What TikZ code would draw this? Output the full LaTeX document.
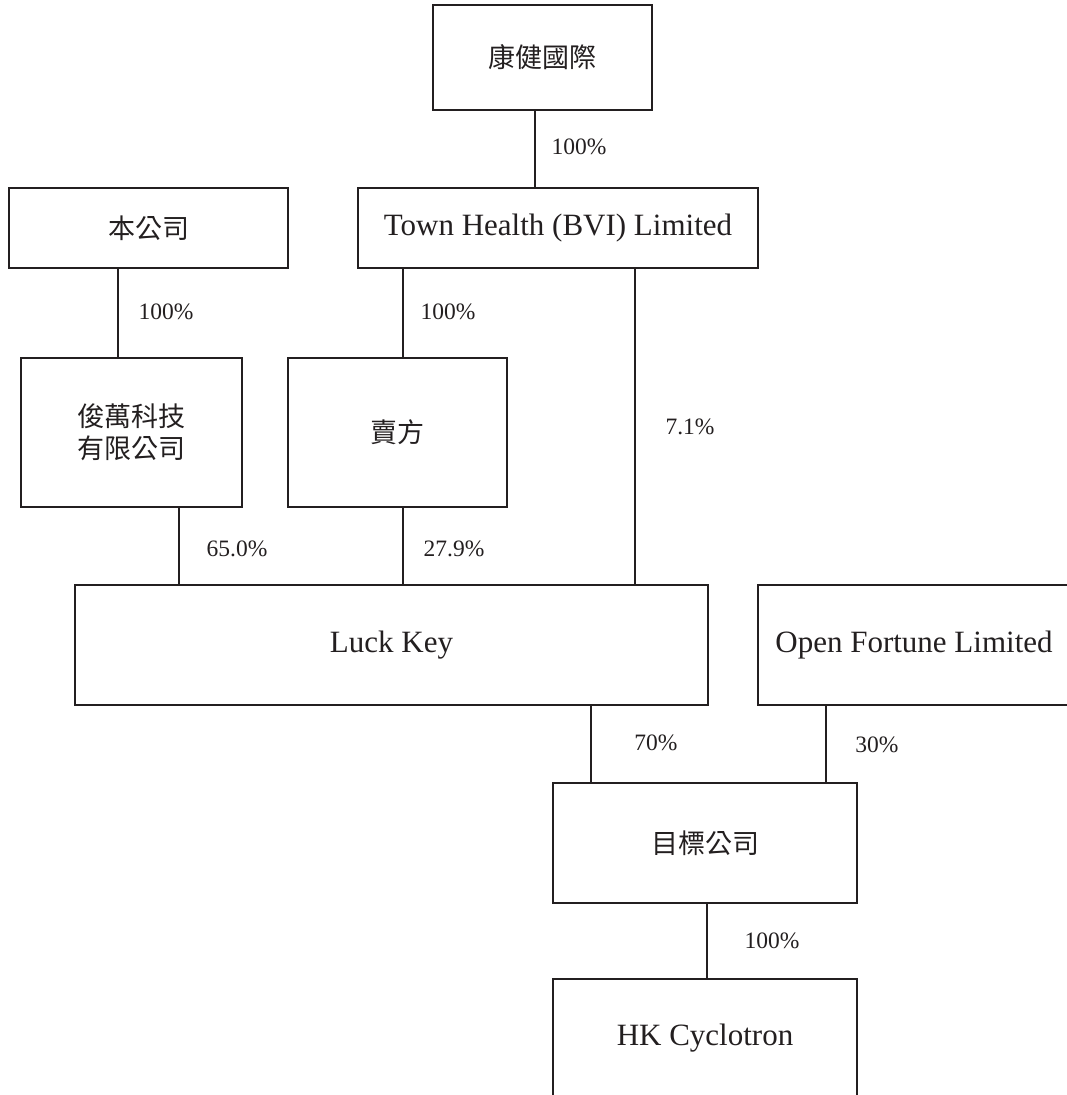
\documentclass[tikz,border=0pt]{standalone}
\usepackage{fontspec}
\setmainfont{Liberation Serif}
\newfontfamily\cjk{Noto Sans CJK TC}
\definecolor{ink}{HTML}{231F20}
\tikzset{
  box/.style={draw=ink, line width=1.6pt, inner sep=0pt, outer sep=0pt, align=center, text=ink,
    font=\fontsize{31}{36}\selectfont},
  cjkbox/.style={box, font=\cjk\fontsize{27}{32}\selectfont},
  link/.style={draw=ink, line width=1.6pt},
  pct/.style={inner sep=0pt, text=ink, font=\fontsize{23.5}{26}\selectfont}
}
\begin{document}
\begin{tikzpicture}[x=1pt, y=-1pt]
\useasboundingbox (0,0) rectangle (1067,1095);
\clip (0,0) rectangle (1067,1095);
% boxes
\node[cjkbox, minimum width=219pt, minimum height=105pt] (kj) at (542.5,57.5) {康健國際};
\node[cjkbox, minimum width=279pt, minimum height=80pt] (ben) at (148.5,228) {本公司};
\node[box, minimum width=400pt, minimum height=80pt] (th) at (558,228) {Town Health (BVI) Limited};
\node[cjkbox, minimum width=221pt, minimum height=149pt] (jw) at (131.5,432.5) {俊萬科技\\有限公司};
\node[cjkbox, minimum width=219pt, minimum height=149pt] (mf) at (397.5,432.5) {賣方};
\node[box, minimum width=633pt, minimum height=120pt] (lk) at (391.5,645) {Luck Key};
\node[box, minimum width=312pt, minimum height=120pt] (of) at (914,645) {Open Fortune Limited};
\node[cjkbox, minimum width=304pt, minimum height=120pt] (tg) at (705,843) {目標公司};
\node[box, minimum width=304pt, minimum height=118pt] (hk) at (705,1038) {HK Cyclotron};
% connectors
\draw[link] ([xshift=-7.5pt]kj.south) -- ([xshift=-23pt]th.north);
\draw[link] ([xshift=-30.5pt]ben.south) -- ([xshift=-13.5pt]jw.north);
\draw[link] ([xshift=-155pt]th.south) -- ([xshift=5.5pt]mf.north);
\draw[link] ([xshift=77pt]th.south) -- ([xshift=243.5pt]lk.north);
\draw[link] ([xshift=47.5pt]jw.south) -- ([xshift=-212.5pt]lk.north);
\draw[link] ([xshift=5.5pt]mf.south) -- ([xshift=11.5pt]lk.north);
\draw[link] ([xshift=199.5pt]lk.south) -- ([xshift=-114pt]tg.north);
\draw[link] ([xshift=-88pt]of.south) -- ([xshift=121pt]tg.north);
\draw[link] ([xshift=2pt]tg.south) -- ([xshift=2pt]hk.north);
% percentages
\node[pct] (p1) at (579,147) {100\%};
\node[pct] (p2) at (166,312) {100\%};
\node[pct] (p3) at (448,312) {100\%};
\node[pct] (p4) at (690,427) {7.1\%};
\node[pct] (p5) at (237,549) {65.0\%};
\node[pct] (p6) at (454,549) {27.9\%};
\node[pct] (p7) at (656,743) {70\%};
\node[pct] (p8) at (877,745) {30\%};
\node[pct] (p9) at (772,941) {100\%};
\end{tikzpicture}
\end{document}
